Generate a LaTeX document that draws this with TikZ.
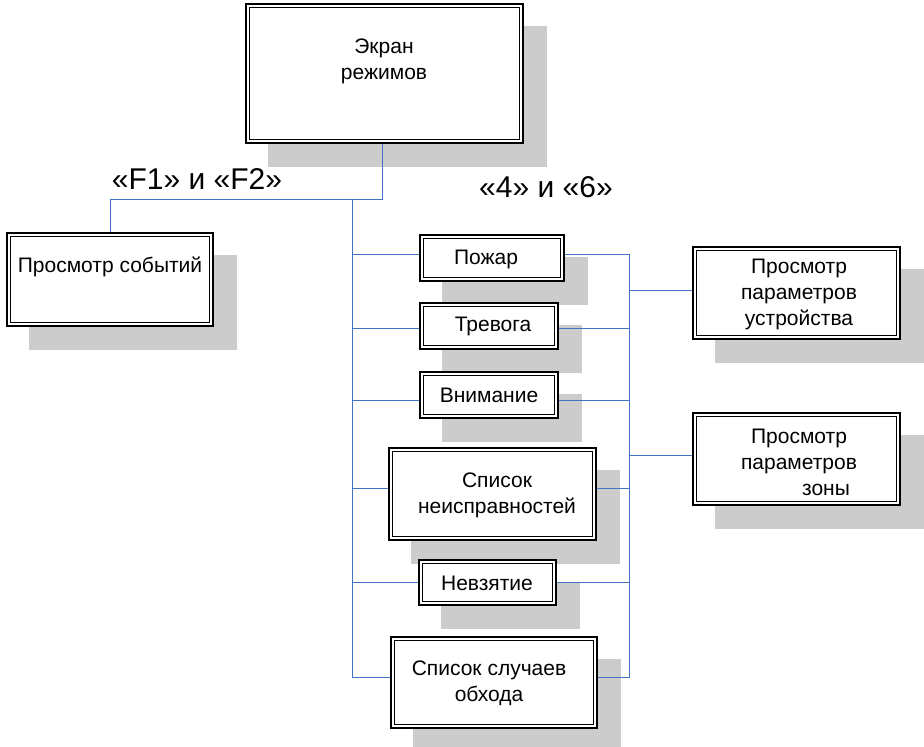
\documentclass[tikz,border=0pt]{standalone}
\usepackage{fontspec}
\setmainfont{Liberation Sans}
\usetikzlibrary{backgrounds}
\definecolor{linkblue}{RGB}{68,114,196}
\definecolor{shadowgray}{RGB}{204,204,204}
\tikzset{
  boxnode/.style={draw=black, line width=1.3pt, fill=white, inner sep=0pt},
  txt/.style={font=\fontsize{21}{26}\selectfont, align=center, inner sep=0pt},
  biglbl/.style={font=\fontsize{30}{32}\selectfont, inner sep=0pt},
  link/.style={draw=linkblue, line width=0.9pt},
}
\newcommand{\mkbox}[5]{% name, cx, cy, w, h
  \node[boxnode, minimum width=#4pt, minimum height=#5pt] (#1) at (#2,#3) {};
  \draw[line width=0.6pt] ([shift={(4,4)}]#1.north west) rectangle ([shift={(-4,-4)}]#1.south east);
  \begin{scope}[on background layer]
    \fill[shadowgray] ([shift={(23,23)}]#1.north west) rectangle ([shift={(23,23)}]#1.south east);
  \end{scope}
}
\begin{document}
\begin{tikzpicture}[x=1pt,y=-1pt]
\useasboundingbox (0,0) rectangle (924,747);

\mkbox{main}{384.5}{73.5}{277}{139}
\mkbox{events}{110}{279.5}{206}{93}
\mkbox{pozhar}{492}{258}{144}{46}
\mkbox{trevoga}{489}{326}{138}{46}
\mkbox{vnim}{489}{395}{138}{46}
\mkbox{spisok}{492.5}{494}{207}{92}
\mkbox{nevz}{487.5}{582.5}{137}{45}
\mkbox{obhod}{494}{682.5}{206}{91}
\mkbox{ustr}{796.5}{293}{207}{92}
\mkbox{zona}{796.5}{459}{207}{92}

% texts
\node[txt] (tmain) at (384,61) {Экран\\режимов};
\node[txt] (tevents) at (110,267) {Просмотр событий};
\node[txt] (tpozhar) at (486,259) {Пожар};
\node[txt] (ttrevoga) at (493,326) {Тревога};
\node[txt] (tvnim) at (489,395) {Внимание};
\node[txt] (tspisok) at (497,495) {Список\\неисправностей};
\node[txt] (tnevz) at (487,583) {Невзятие};
\node[txt] (tobhod) at (489,683) {Список случаев\\обхода};
\node[txt] (tustr) at (799,294) {Просмотр\\параметров\\устройства};
\node[txt] (tzona) at (799,462) {Просмотр\\параметров\\\hspace*{54pt}зоны};

\node[biglbl] (lf) at (197,179) {«F1» и «F2»};
\node[biglbl] (l46) at (546,187) {«4» и «6»};

% connectors
\coordinate (bus) at (382,199);
\coordinate (ltop) at (352,199);
\coordinate (rtop) at (629,254);
\draw[link] (main.south -| bus) -- (bus) -| (events.north);
\draw[link] (bus) -- (ltop);
\draw[link] (ltop) |- ([shift={(0,-5)}]obhod.west);
\draw[link] ([shift={(0,-4)}]ltop |- pozhar.west) -- ([shift={(0,-4)}]pozhar.west);
\draw[link] ([shift={(0,2)}]ltop |- trevoga.west) -- ([shift={(0,2)}]trevoga.west);
\draw[link] ([shift={(0,5)}]ltop |- vnim.west) -- ([shift={(0,5)}]vnim.west);
\draw[link] ([shift={(0,-6)}]ltop |- spisok.west) -- ([shift={(0,-6)}]spisok.west);
\draw[link] (ltop |- nevz.west) -- (nevz.west);

\draw[link] ([shift={(0,-4)}]pozhar.east) -- (rtop) |- ([shift={(0,-5)}]obhod.east);
\draw[link] ([shift={(0,2)}]trevoga.east) -- ([shift={(0,2)}]rtop |- trevoga.east);
\draw[link] ([shift={(0,5)}]vnim.east) -- ([shift={(0,5)}]rtop |- vnim.east);
\draw[link] ([shift={(0,-6)}]spisok.east) -- ([shift={(0,-6)}]rtop |- spisok.east);
\draw[link] (nevz.east) -- (rtop |- nevz.east);
\draw[link] ([shift={(0,-3)}]rtop |- ustr.west) -- ([shift={(0,-3)}]ustr.west);
\draw[link] ([shift={(0,-4)}]rtop |- zona.west) -- ([shift={(0,-4)}]zona.west);
\end{tikzpicture}
\end{document}
